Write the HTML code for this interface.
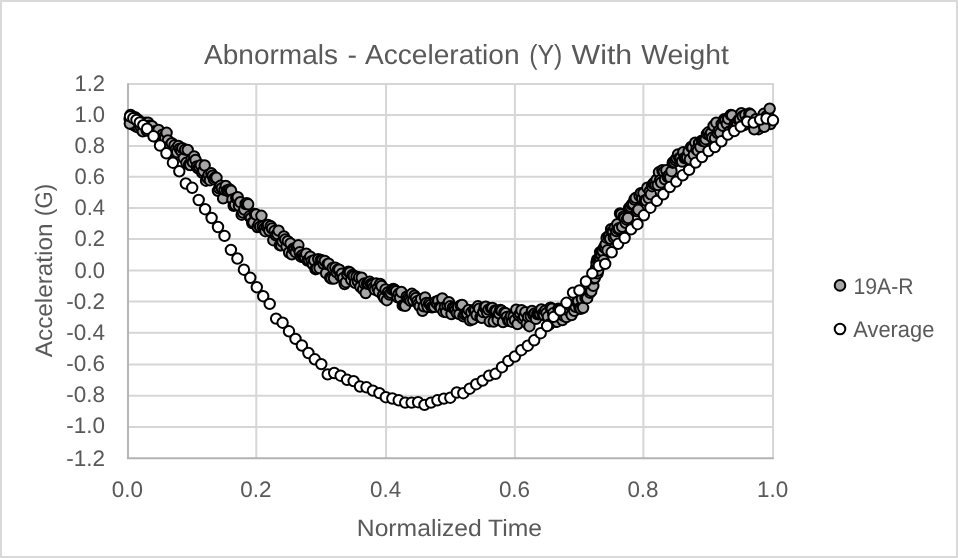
<!DOCTYPE html>
<html lang="en"><head><meta charset="utf-8"><title>Abnormals - Acceleration (Y) With Weight</title>
<style>html,body{margin:0;padding:0;background:#fff;}body{width:958px;height:558px;overflow:hidden;}svg{display:block;will-change:transform;}text{font-family:"Liberation Sans",sans-serif;fill:#595959;text-rendering:geometricPrecision;}</style></head><body>
<svg width="958" height="558" viewBox="0 0 958 558">
<rect x="0" y="0" width="958" height="558" fill="#ffffff"/>
<rect x="1" y="1" width="956" height="556" fill="none" stroke="#d9d9d9" stroke-width="2"/>
<g stroke="#d6d6d6" stroke-width="2" fill="none"><line x1="127.7" y1="83.90" x2="774.0" y2="83.90"/><line x1="127.7" y1="115.10" x2="774.0" y2="115.10"/><line x1="127.7" y1="146.10" x2="774.0" y2="146.10"/><line x1="127.7" y1="176.80" x2="774.0" y2="176.80"/><line x1="127.7" y1="207.90" x2="774.0" y2="207.90"/><line x1="127.7" y1="239.00" x2="774.0" y2="239.00"/><line x1="127.7" y1="270.50" x2="774.0" y2="270.50"/><line x1="127.7" y1="301.50" x2="774.0" y2="301.50"/><line x1="127.7" y1="332.70" x2="774.0" y2="332.70"/><line x1="127.7" y1="364.40" x2="774.0" y2="364.40"/><line x1="127.7" y1="395.80" x2="774.0" y2="395.80"/><line x1="127.7" y1="427.10" x2="774.0" y2="427.10"/><line x1="256.30" y1="82.9" x2="256.30" y2="458.2"/><line x1="386.05" y1="82.9" x2="386.05" y2="458.2"/><line x1="514.90" y1="82.9" x2="514.90" y2="458.2"/><line x1="643.40" y1="82.9" x2="643.40" y2="458.2"/><line x1="773.00" y1="82.9" x2="773.00" y2="458.2"/></g>
<g stroke="#b3b3b3" stroke-width="1.9" fill="none"><line x1="128.0" y1="83.2" x2="128.0" y2="459.0"/><line x1="126.9" y1="458.2" x2="773.8" y2="458.2"/></g>
<g fill="#a8a5a5" stroke="#000" stroke-width="2.0"><circle cx="130.2" cy="121.0" r="5.2"/><circle cx="131.8" cy="124.2" r="5.2"/><circle cx="134.0" cy="125.0" r="5.2"/><circle cx="136.2" cy="126.6" r="5.2"/><circle cx="138.6" cy="127.6" r="5.2"/><circle cx="131.0" cy="118.5" r="5.2"/><circle cx="129.6" cy="118.7" r="5.2"/><circle cx="130.9" cy="117.2" r="5.2"/><circle cx="132.2" cy="120.9" r="5.2"/><circle cx="133.6" cy="121.5" r="5.2"/><circle cx="134.9" cy="117.2" r="5.2"/><circle cx="136.2" cy="118.5" r="5.2"/><circle cx="137.5" cy="122.2" r="5.2"/><circle cx="138.8" cy="120.3" r="5.2"/><circle cx="140.2" cy="126.1" r="5.2"/><circle cx="141.5" cy="123.1" r="5.2"/><circle cx="142.8" cy="131.4" r="5.2"/><circle cx="144.1" cy="123.8" r="5.2"/><circle cx="145.4" cy="122.8" r="5.2"/><circle cx="146.8" cy="130.6" r="5.2"/><circle cx="148.1" cy="122.6" r="5.2"/><circle cx="149.4" cy="125.7" r="5.2"/><circle cx="150.7" cy="129.3" r="5.2"/><circle cx="152.0" cy="126.1" r="5.2"/><circle cx="153.4" cy="131.8" r="5.2"/><circle cx="154.7" cy="132.7" r="5.2"/><circle cx="156.0" cy="131.2" r="5.2"/><circle cx="157.3" cy="137.2" r="5.2"/><circle cx="158.6" cy="129.9" r="5.2"/><circle cx="160.0" cy="139.3" r="5.2"/><circle cx="161.3" cy="138.3" r="5.2"/><circle cx="162.6" cy="134.6" r="5.2"/><circle cx="163.9" cy="136.9" r="5.2"/><circle cx="165.2" cy="138.2" r="5.2"/><circle cx="166.6" cy="132.8" r="5.2"/><circle cx="167.9" cy="140.4" r="5.2"/><circle cx="169.2" cy="146.5" r="5.2"/><circle cx="170.5" cy="145.7" r="5.2"/><circle cx="171.8" cy="143.1" r="5.2"/><circle cx="173.2" cy="151.9" r="5.2"/><circle cx="174.5" cy="145.3" r="5.2"/><circle cx="175.8" cy="149.5" r="5.2"/><circle cx="177.1" cy="152.2" r="5.2"/><circle cx="178.4" cy="145.9" r="5.2"/><circle cx="179.8" cy="148.6" r="5.2"/><circle cx="181.1" cy="150.8" r="5.2"/><circle cx="182.4" cy="148.1" r="5.2"/><circle cx="183.7" cy="158.1" r="5.2"/><circle cx="185.0" cy="149.6" r="5.2"/><circle cx="186.4" cy="162.8" r="5.2"/><circle cx="187.7" cy="149.9" r="5.2"/><circle cx="189.0" cy="164.7" r="5.2"/><circle cx="190.3" cy="165.1" r="5.2"/><circle cx="191.6" cy="159.1" r="5.2"/><circle cx="192.9" cy="162.2" r="5.2"/><circle cx="194.2" cy="156.4" r="5.2"/><circle cx="195.5" cy="160.0" r="5.2"/><circle cx="196.8" cy="166.5" r="5.2"/><circle cx="198.1" cy="168.4" r="5.2"/><circle cx="199.4" cy="167.2" r="5.2"/><circle cx="200.8" cy="165.1" r="5.2"/><circle cx="202.1" cy="172.5" r="5.2"/><circle cx="203.4" cy="171.0" r="5.2"/><circle cx="204.7" cy="165.5" r="5.2"/><circle cx="206.0" cy="180.7" r="5.2"/><circle cx="207.3" cy="177.8" r="5.2"/><circle cx="208.6" cy="174.7" r="5.2"/><circle cx="209.9" cy="180.2" r="5.2"/><circle cx="211.3" cy="173.3" r="5.2"/><circle cx="212.6" cy="175.6" r="5.2"/><circle cx="213.9" cy="179.2" r="5.2"/><circle cx="215.2" cy="177.5" r="5.2"/><circle cx="216.5" cy="177.8" r="5.2"/><circle cx="217.9" cy="190.8" r="5.2"/><circle cx="219.2" cy="188.4" r="5.2"/><circle cx="220.5" cy="185.8" r="5.2"/><circle cx="221.8" cy="188.1" r="5.2"/><circle cx="223.1" cy="198.4" r="5.2"/><circle cx="224.5" cy="189.8" r="5.2"/><circle cx="225.8" cy="186.0" r="5.2"/><circle cx="227.1" cy="190.5" r="5.2"/><circle cx="228.4" cy="191.1" r="5.2"/><circle cx="229.7" cy="189.4" r="5.2"/><circle cx="231.1" cy="190.7" r="5.2"/><circle cx="232.4" cy="199.4" r="5.2"/><circle cx="233.7" cy="205.9" r="5.2"/><circle cx="235.0" cy="204.8" r="5.2"/><circle cx="236.3" cy="198.0" r="5.2"/><circle cx="237.7" cy="197.2" r="5.2"/><circle cx="239.0" cy="205.9" r="5.2"/><circle cx="240.3" cy="202.2" r="5.2"/><circle cx="241.6" cy="214.7" r="5.2"/><circle cx="242.9" cy="212.6" r="5.2"/><circle cx="244.3" cy="209.5" r="5.2"/><circle cx="245.6" cy="204.0" r="5.2"/><circle cx="246.9" cy="203.2" r="5.2"/><circle cx="248.2" cy="204.3" r="5.2"/><circle cx="249.5" cy="216.3" r="5.2"/><circle cx="250.9" cy="218.1" r="5.2"/><circle cx="252.2" cy="223.0" r="5.2"/><circle cx="253.5" cy="222.4" r="5.2"/><circle cx="254.8" cy="213.9" r="5.2"/><circle cx="256.1" cy="214.5" r="5.2"/><circle cx="257.5" cy="227.1" r="5.2"/><circle cx="258.8" cy="224.3" r="5.2"/><circle cx="260.1" cy="226.7" r="5.2"/><circle cx="261.4" cy="215.8" r="5.2"/><circle cx="262.7" cy="226.6" r="5.2"/><circle cx="264.1" cy="228.7" r="5.2"/><circle cx="265.4" cy="231.2" r="5.2"/><circle cx="266.7" cy="226.5" r="5.2"/><circle cx="268.0" cy="224.9" r="5.2"/><circle cx="269.3" cy="230.6" r="5.2"/><circle cx="270.7" cy="226.1" r="5.2"/><circle cx="272.0" cy="228.5" r="5.2"/><circle cx="273.3" cy="240.2" r="5.2"/><circle cx="274.6" cy="230.9" r="5.2"/><circle cx="275.9" cy="235.4" r="5.2"/><circle cx="277.3" cy="234.1" r="5.2"/><circle cx="278.6" cy="230.6" r="5.2"/><circle cx="279.9" cy="245.2" r="5.2"/><circle cx="281.2" cy="245.4" r="5.2"/><circle cx="282.5" cy="241.6" r="5.2"/><circle cx="283.9" cy="236.5" r="5.2"/><circle cx="285.2" cy="239.4" r="5.2"/><circle cx="286.5" cy="246.4" r="5.2"/><circle cx="287.8" cy="241.2" r="5.2"/><circle cx="289.1" cy="252.5" r="5.2"/><circle cx="290.5" cy="243.5" r="5.2"/><circle cx="291.8" cy="254.3" r="5.2"/><circle cx="293.1" cy="248.8" r="5.2"/><circle cx="294.4" cy="249.6" r="5.2"/><circle cx="295.7" cy="252.2" r="5.2"/><circle cx="297.1" cy="247.0" r="5.2"/><circle cx="298.4" cy="245.3" r="5.2"/><circle cx="299.7" cy="252.3" r="5.2"/><circle cx="301.0" cy="256.7" r="5.2"/><circle cx="302.3" cy="255.1" r="5.2"/><circle cx="303.7" cy="257.0" r="5.2"/><circle cx="305.0" cy="257.4" r="5.2"/><circle cx="306.3" cy="253.7" r="5.2"/><circle cx="307.6" cy="260.5" r="5.2"/><circle cx="308.9" cy="260.3" r="5.2"/><circle cx="310.3" cy="256.7" r="5.2"/><circle cx="311.6" cy="261.1" r="5.2"/><circle cx="312.9" cy="264.3" r="5.2"/><circle cx="314.2" cy="260.3" r="5.2"/><circle cx="315.5" cy="269.2" r="5.2"/><circle cx="316.9" cy="268.5" r="5.2"/><circle cx="318.2" cy="259.1" r="5.2"/><circle cx="319.5" cy="268.1" r="5.2"/><circle cx="320.8" cy="259.9" r="5.2"/><circle cx="322.1" cy="260.7" r="5.2"/><circle cx="323.5" cy="263.8" r="5.2"/><circle cx="324.8" cy="261.0" r="5.2"/><circle cx="326.1" cy="273.2" r="5.2"/><circle cx="327.4" cy="264.3" r="5.2"/><circle cx="328.7" cy="263.7" r="5.2"/><circle cx="330.1" cy="277.7" r="5.2"/><circle cx="331.4" cy="278.6" r="5.2"/><circle cx="332.7" cy="268.0" r="5.2"/><circle cx="334.0" cy="278.5" r="5.2"/><circle cx="335.3" cy="267.6" r="5.2"/><circle cx="336.7" cy="272.4" r="5.2"/><circle cx="338.0" cy="269.5" r="5.2"/><circle cx="339.3" cy="269.6" r="5.2"/><circle cx="340.6" cy="276.2" r="5.2"/><circle cx="341.9" cy="273.6" r="5.2"/><circle cx="343.3" cy="277.9" r="5.2"/><circle cx="344.6" cy="284.1" r="5.2"/><circle cx="345.9" cy="282.2" r="5.2"/><circle cx="347.2" cy="274.3" r="5.2"/><circle cx="348.5" cy="271.6" r="5.2"/><circle cx="349.9" cy="272.4" r="5.2"/><circle cx="351.2" cy="279.8" r="5.2"/><circle cx="352.5" cy="275.0" r="5.2"/><circle cx="353.8" cy="276.2" r="5.2"/><circle cx="355.1" cy="282.8" r="5.2"/><circle cx="356.5" cy="276.7" r="5.2"/><circle cx="357.8" cy="281.3" r="5.2"/><circle cx="359.1" cy="277.5" r="5.2"/><circle cx="360.4" cy="286.9" r="5.2"/><circle cx="361.7" cy="277.7" r="5.2"/><circle cx="363.1" cy="289.3" r="5.2"/><circle cx="364.4" cy="283.5" r="5.2"/><circle cx="365.7" cy="293.0" r="5.2"/><circle cx="367.0" cy="283.6" r="5.2"/><circle cx="368.3" cy="283.9" r="5.2"/><circle cx="369.7" cy="281.8" r="5.2"/><circle cx="371.0" cy="283.9" r="5.2"/><circle cx="372.3" cy="285.0" r="5.2"/><circle cx="373.6" cy="287.5" r="5.2"/><circle cx="374.9" cy="289.7" r="5.2"/><circle cx="376.3" cy="283.5" r="5.2"/><circle cx="377.6" cy="288.2" r="5.2"/><circle cx="378.9" cy="291.5" r="5.2"/><circle cx="380.2" cy="283.9" r="5.2"/><circle cx="381.5" cy="286.0" r="5.2"/><circle cx="382.9" cy="295.4" r="5.2"/><circle cx="384.2" cy="297.8" r="5.2"/><circle cx="385.5" cy="289.5" r="5.2"/><circle cx="386.8" cy="300.2" r="5.2"/><circle cx="388.1" cy="292.1" r="5.2"/><circle cx="389.5" cy="294.5" r="5.2"/><circle cx="390.8" cy="292.8" r="5.2"/><circle cx="392.1" cy="289.7" r="5.2"/><circle cx="393.4" cy="288.9" r="5.2"/><circle cx="394.7" cy="289.9" r="5.2"/><circle cx="396.1" cy="291.2" r="5.2"/><circle cx="397.4" cy="297.2" r="5.2"/><circle cx="398.7" cy="293.8" r="5.2"/><circle cx="400.0" cy="297.8" r="5.2"/><circle cx="401.3" cy="292.0" r="5.2"/><circle cx="402.7" cy="305.4" r="5.2"/><circle cx="404.0" cy="304.9" r="5.2"/><circle cx="405.3" cy="305.8" r="5.2"/><circle cx="406.6" cy="296.7" r="5.2"/><circle cx="407.9" cy="298.3" r="5.2"/><circle cx="409.3" cy="299.3" r="5.2"/><circle cx="410.6" cy="300.9" r="5.2"/><circle cx="411.9" cy="293.8" r="5.2"/><circle cx="413.2" cy="300.3" r="5.2"/><circle cx="414.5" cy="295.6" r="5.2"/><circle cx="415.9" cy="297.9" r="5.2"/><circle cx="417.2" cy="301.3" r="5.2"/><circle cx="418.5" cy="304.0" r="5.2"/><circle cx="419.8" cy="306.2" r="5.2"/><circle cx="421.1" cy="299.1" r="5.2"/><circle cx="422.5" cy="310.8" r="5.2"/><circle cx="423.8" cy="306.3" r="5.2"/><circle cx="425.1" cy="297.4" r="5.2"/><circle cx="426.4" cy="303.0" r="5.2"/><circle cx="427.7" cy="307.0" r="5.2"/><circle cx="429.1" cy="303.3" r="5.2"/><circle cx="430.4" cy="304.9" r="5.2"/><circle cx="431.7" cy="307.3" r="5.2"/><circle cx="433.0" cy="307.1" r="5.2"/><circle cx="434.3" cy="306.7" r="5.2"/><circle cx="435.7" cy="301.8" r="5.2"/><circle cx="437.0" cy="303.7" r="5.2"/><circle cx="438.3" cy="300.8" r="5.2"/><circle cx="439.6" cy="307.0" r="5.2"/><circle cx="440.9" cy="308.0" r="5.2"/><circle cx="442.3" cy="298.5" r="5.2"/><circle cx="443.6" cy="311.7" r="5.2"/><circle cx="444.9" cy="306.9" r="5.2"/><circle cx="446.2" cy="312.0" r="5.2"/><circle cx="447.5" cy="305.4" r="5.2"/><circle cx="448.9" cy="302.2" r="5.2"/><circle cx="450.2" cy="306.3" r="5.2"/><circle cx="451.5" cy="314.0" r="5.2"/><circle cx="452.8" cy="307.6" r="5.2"/><circle cx="454.1" cy="308.7" r="5.2"/><circle cx="455.5" cy="310.1" r="5.2"/><circle cx="456.8" cy="313.1" r="5.2"/><circle cx="458.1" cy="307.3" r="5.2"/><circle cx="459.4" cy="314.1" r="5.2"/><circle cx="460.7" cy="305.4" r="5.2"/><circle cx="462.1" cy="304.9" r="5.2"/><circle cx="463.4" cy="316.3" r="5.2"/><circle cx="464.7" cy="314.4" r="5.2"/><circle cx="466.0" cy="313.1" r="5.2"/><circle cx="467.3" cy="313.8" r="5.2"/><circle cx="468.7" cy="309.9" r="5.2"/><circle cx="470.0" cy="320.3" r="5.2"/><circle cx="471.3" cy="312.5" r="5.2"/><circle cx="472.6" cy="319.3" r="5.2"/><circle cx="473.9" cy="310.0" r="5.2"/><circle cx="475.3" cy="310.3" r="5.2"/><circle cx="476.6" cy="315.0" r="5.2"/><circle cx="477.9" cy="306.3" r="5.2"/><circle cx="479.2" cy="308.7" r="5.2"/><circle cx="480.5" cy="317.2" r="5.2"/><circle cx="481.9" cy="317.9" r="5.2"/><circle cx="483.2" cy="312.1" r="5.2"/><circle cx="484.5" cy="307.4" r="5.2"/><circle cx="485.8" cy="306.7" r="5.2"/><circle cx="487.1" cy="312.5" r="5.2"/><circle cx="488.5" cy="309.6" r="5.2"/><circle cx="489.8" cy="321.4" r="5.2"/><circle cx="491.1" cy="308.2" r="5.2"/><circle cx="492.4" cy="308.0" r="5.2"/><circle cx="493.7" cy="321.5" r="5.2"/><circle cx="495.1" cy="310.5" r="5.2"/><circle cx="496.4" cy="310.9" r="5.2"/><circle cx="497.7" cy="319.9" r="5.2"/><circle cx="499.0" cy="313.3" r="5.2"/><circle cx="500.3" cy="309.9" r="5.2"/><circle cx="501.7" cy="310.8" r="5.2"/><circle cx="503.0" cy="322.0" r="5.2"/><circle cx="504.3" cy="312.6" r="5.2"/><circle cx="505.6" cy="313.2" r="5.2"/><circle cx="506.9" cy="316.9" r="5.2"/><circle cx="508.3" cy="320.6" r="5.2"/><circle cx="509.6" cy="320.9" r="5.2"/><circle cx="510.9" cy="316.1" r="5.2"/><circle cx="512.2" cy="321.8" r="5.2"/><circle cx="513.5" cy="316.7" r="5.2"/><circle cx="514.9" cy="320.2" r="5.2"/><circle cx="516.2" cy="309.6" r="5.2"/><circle cx="517.5" cy="324.1" r="5.2"/><circle cx="518.8" cy="315.4" r="5.2"/><circle cx="520.1" cy="313.6" r="5.2"/><circle cx="521.5" cy="310.2" r="5.2"/><circle cx="522.8" cy="318.6" r="5.2"/><circle cx="524.1" cy="316.4" r="5.2"/><circle cx="525.4" cy="312.1" r="5.2"/><circle cx="526.7" cy="323.2" r="5.2"/><circle cx="528.1" cy="316.9" r="5.2"/><circle cx="529.4" cy="326.2" r="5.2"/><circle cx="530.7" cy="316.2" r="5.2"/><circle cx="532.0" cy="311.0" r="5.2"/><circle cx="533.3" cy="314.8" r="5.2"/><circle cx="534.7" cy="313.4" r="5.2"/><circle cx="536.0" cy="318.9" r="5.2"/><circle cx="537.3" cy="314.0" r="5.2"/><circle cx="538.6" cy="314.2" r="5.2"/><circle cx="539.9" cy="313.9" r="5.2"/><circle cx="541.3" cy="309.5" r="5.2"/><circle cx="542.6" cy="313.8" r="5.2"/><circle cx="543.9" cy="315.0" r="5.2"/><circle cx="545.2" cy="310.7" r="5.2"/><circle cx="546.5" cy="313.1" r="5.2"/><circle cx="547.9" cy="316.8" r="5.2"/><circle cx="549.2" cy="324.5" r="5.2"/><circle cx="550.5" cy="307.6" r="5.2"/><circle cx="551.8" cy="308.8" r="5.2"/><circle cx="553.1" cy="313.3" r="5.2"/><circle cx="554.5" cy="318.1" r="5.2"/><circle cx="555.8" cy="321.7" r="5.2"/><circle cx="557.1" cy="321.7" r="5.2"/><circle cx="558.4" cy="308.7" r="5.2"/><circle cx="559.7" cy="309.4" r="5.2"/><circle cx="561.1" cy="317.9" r="5.2"/><circle cx="562.4" cy="320.1" r="5.2"/><circle cx="563.7" cy="315.9" r="5.2"/><circle cx="565.0" cy="312.3" r="5.2"/><circle cx="566.3" cy="317.0" r="5.2"/><circle cx="567.7" cy="310.0" r="5.2"/><circle cx="569.0" cy="308.3" r="5.2"/><circle cx="570.3" cy="305.7" r="5.2"/><circle cx="571.6" cy="315.0" r="5.2"/><circle cx="572.9" cy="305.3" r="5.2"/><circle cx="574.3" cy="310.9" r="5.2"/><circle cx="575.6" cy="306.9" r="5.2"/><circle cx="576.9" cy="301.8" r="5.2"/><circle cx="578.2" cy="301.1" r="5.2"/><circle cx="579.5" cy="308.1" r="5.2"/><circle cx="580.7" cy="308.8" r="5.2"/><circle cx="581.9" cy="299.0" r="5.2"/><circle cx="583.1" cy="307.8" r="5.2"/><circle cx="584.3" cy="292.0" r="5.2"/><circle cx="585.5" cy="298.1" r="5.2"/><circle cx="586.4" cy="292.4" r="5.2"/><circle cx="587.2" cy="298.2" r="5.2"/><circle cx="587.9" cy="286.0" r="5.2"/><circle cx="588.6" cy="287.8" r="5.2"/><circle cx="589.3" cy="286.3" r="5.2"/><circle cx="590.0" cy="292.7" r="5.2"/><circle cx="590.7" cy="281.0" r="5.2"/><circle cx="591.3" cy="291.2" r="5.2"/><circle cx="592.0" cy="281.3" r="5.2"/><circle cx="592.7" cy="277.8" r="5.2"/><circle cx="593.3" cy="285.9" r="5.2"/><circle cx="593.9" cy="278.5" r="5.2"/><circle cx="594.4" cy="276.0" r="5.2"/><circle cx="594.9" cy="277.8" r="5.2"/><circle cx="595.5" cy="271.3" r="5.2"/><circle cx="596.0" cy="267.7" r="5.2"/><circle cx="596.5" cy="262.9" r="5.2"/><circle cx="597.1" cy="259.6" r="5.2"/><circle cx="597.6" cy="273.3" r="5.2"/><circle cx="598.2" cy="270.5" r="5.2"/><circle cx="598.8" cy="260.4" r="5.2"/><circle cx="599.4" cy="258.4" r="5.2"/><circle cx="600.1" cy="252.1" r="5.2"/><circle cx="600.7" cy="259.8" r="5.2"/><circle cx="601.4" cy="254.7" r="5.2"/><circle cx="602.1" cy="250.8" r="5.2"/><circle cx="602.7" cy="251.0" r="5.2"/><circle cx="603.4" cy="260.2" r="5.2"/><circle cx="604.1" cy="247.4" r="5.2"/><circle cx="604.9" cy="247.2" r="5.2"/><circle cx="605.7" cy="244.2" r="5.2"/><circle cx="606.6" cy="237.7" r="5.2"/><circle cx="607.5" cy="250.3" r="5.2"/><circle cx="608.4" cy="236.3" r="5.2"/><circle cx="609.3" cy="235.7" r="5.2"/><circle cx="610.2" cy="238.7" r="5.2"/><circle cx="611.1" cy="229.2" r="5.2"/><circle cx="612.0" cy="231.6" r="5.2"/><circle cx="612.9" cy="232.0" r="5.2"/><circle cx="613.8" cy="237.6" r="5.2"/><circle cx="614.7" cy="227.6" r="5.2"/><circle cx="615.5" cy="236.1" r="5.2"/><circle cx="616.4" cy="231.1" r="5.2"/><circle cx="617.3" cy="224.2" r="5.2"/><circle cx="618.2" cy="229.2" r="5.2"/><circle cx="619.1" cy="228.2" r="5.2"/><circle cx="620.0" cy="213.4" r="5.2"/><circle cx="621.1" cy="214.5" r="5.2"/><circle cx="622.2" cy="226.9" r="5.2"/><circle cx="623.4" cy="216.7" r="5.2"/><circle cx="624.5" cy="218.1" r="5.2"/><circle cx="625.7" cy="222.9" r="5.2"/><circle cx="626.8" cy="219.7" r="5.2"/><circle cx="628.0" cy="218.0" r="5.2"/><circle cx="629.2" cy="207.8" r="5.2"/><circle cx="630.5" cy="206.7" r="5.2"/><circle cx="631.8" cy="204.6" r="5.2"/><circle cx="633.1" cy="203.7" r="5.2"/><circle cx="634.4" cy="199.6" r="5.2"/><circle cx="635.7" cy="197.9" r="5.2"/><circle cx="637.0" cy="211.3" r="5.2"/><circle cx="638.3" cy="209.8" r="5.2"/><circle cx="639.5" cy="195.8" r="5.2"/><circle cx="640.8" cy="193.1" r="5.2"/><circle cx="642.1" cy="198.8" r="5.2"/><circle cx="643.4" cy="193.1" r="5.2"/><circle cx="644.7" cy="200.4" r="5.2"/><circle cx="646.0" cy="200.5" r="5.2"/><circle cx="647.3" cy="187.7" r="5.2"/><circle cx="648.6" cy="198.0" r="5.2"/><circle cx="649.7" cy="191.4" r="5.2"/><circle cx="650.9" cy="194.3" r="5.2"/><circle cx="652.0" cy="186.2" r="5.2"/><circle cx="653.2" cy="183.8" r="5.2"/><circle cx="654.3" cy="182.9" r="5.2"/><circle cx="655.5" cy="184.9" r="5.2"/><circle cx="656.6" cy="179.7" r="5.2"/><circle cx="657.8" cy="185.0" r="5.2"/><circle cx="658.9" cy="172.3" r="5.2"/><circle cx="660.1" cy="180.1" r="5.2"/><circle cx="661.2" cy="182.5" r="5.2"/><circle cx="662.4" cy="170.2" r="5.2"/><circle cx="663.7" cy="171.8" r="5.2"/><circle cx="665.0" cy="179.4" r="5.2"/><circle cx="666.3" cy="170.3" r="5.2"/><circle cx="667.6" cy="176.8" r="5.2"/><circle cx="668.9" cy="175.3" r="5.2"/><circle cx="670.2" cy="177.5" r="5.2"/><circle cx="671.5" cy="171.2" r="5.2"/><circle cx="672.7" cy="162.7" r="5.2"/><circle cx="674.0" cy="162.1" r="5.2"/><circle cx="675.4" cy="160.0" r="5.2"/><circle cx="676.7" cy="158.4" r="5.2"/><circle cx="678.0" cy="154.5" r="5.2"/><circle cx="679.3" cy="158.1" r="5.2"/><circle cx="680.6" cy="157.9" r="5.2"/><circle cx="682.0" cy="161.5" r="5.2"/><circle cx="683.3" cy="152.2" r="5.2"/><circle cx="684.6" cy="158.0" r="5.2"/><circle cx="685.9" cy="158.0" r="5.2"/><circle cx="687.2" cy="157.4" r="5.2"/><circle cx="688.6" cy="151.5" r="5.2"/><circle cx="689.9" cy="159.4" r="5.2"/><circle cx="691.2" cy="146.9" r="5.2"/><circle cx="692.5" cy="147.8" r="5.2"/><circle cx="693.8" cy="154.7" r="5.2"/><circle cx="695.2" cy="142.6" r="5.2"/><circle cx="696.5" cy="149.3" r="5.2"/><circle cx="697.8" cy="150.7" r="5.2"/><circle cx="699.1" cy="142.9" r="5.2"/><circle cx="700.4" cy="147.0" r="5.2"/><circle cx="701.8" cy="140.7" r="5.2"/><circle cx="703.1" cy="140.9" r="5.2"/><circle cx="704.4" cy="141.3" r="5.2"/><circle cx="705.7" cy="139.2" r="5.2"/><circle cx="707.0" cy="133.9" r="5.2"/><circle cx="708.4" cy="132.3" r="5.2"/><circle cx="709.7" cy="135.3" r="5.2"/><circle cx="711.0" cy="133.1" r="5.2"/><circle cx="712.3" cy="137.7" r="5.2"/><circle cx="713.6" cy="125.8" r="5.2"/><circle cx="715.0" cy="138.3" r="5.2"/><circle cx="716.3" cy="122.7" r="5.2"/><circle cx="717.6" cy="133.0" r="5.2"/><circle cx="718.9" cy="130.9" r="5.2"/><circle cx="720.2" cy="132.9" r="5.2"/><circle cx="721.6" cy="124.1" r="5.2"/><circle cx="722.9" cy="125.9" r="5.2"/><circle cx="724.2" cy="119.3" r="5.2"/><circle cx="725.5" cy="120.0" r="5.2"/><circle cx="726.8" cy="123.8" r="5.2"/><circle cx="728.2" cy="118.8" r="5.2"/><circle cx="729.5" cy="131.5" r="5.2"/><circle cx="730.8" cy="114.9" r="5.2"/><circle cx="732.1" cy="115.4" r="5.2"/><circle cx="733.4" cy="128.8" r="5.2"/><circle cx="734.8" cy="124.2" r="5.2"/><circle cx="736.1" cy="123.7" r="5.2"/><circle cx="737.4" cy="124.2" r="5.2"/><circle cx="738.7" cy="119.9" r="5.2"/><circle cx="740.0" cy="119.5" r="5.2"/><circle cx="741.4" cy="113.1" r="5.2"/><circle cx="742.7" cy="116.2" r="5.2"/><circle cx="744.0" cy="125.1" r="5.2"/><circle cx="745.3" cy="115.0" r="5.2"/><circle cx="746.6" cy="120.9" r="5.2"/><circle cx="748.0" cy="120.1" r="5.2"/><circle cx="749.3" cy="113.5" r="5.2"/><circle cx="750.6" cy="114.4" r="5.2"/><circle cx="751.9" cy="124.2" r="5.2"/><circle cx="753.2" cy="125.6" r="5.2"/><circle cx="754.6" cy="122.0" r="5.2"/><circle cx="755.9" cy="119.2" r="5.2"/><circle cx="757.2" cy="128.6" r="5.2"/><circle cx="758.5" cy="129.2" r="5.2"/><circle cx="759.8" cy="123.7" r="5.2"/><circle cx="761.2" cy="126.3" r="5.2"/><circle cx="762.5" cy="121.8" r="5.2"/><circle cx="763.8" cy="113.8" r="5.2"/><circle cx="765.1" cy="123.8" r="5.2"/><circle cx="766.4" cy="116.5" r="5.2"/><circle cx="767.8" cy="123.8" r="5.2"/><circle cx="769.1" cy="117.1" r="5.2"/><circle cx="770.4" cy="124.0" r="5.2"/><circle cx="769.7" cy="108.6" r="5.2"/><circle cx="754.3" cy="129.4" r="5.2"/><circle cx="764.3" cy="126.9" r="5.2"/><circle cx="129.8" cy="123.6" r="5.2"/><circle cx="130.6" cy="115.0" r="5.2"/></g>
<g fill="#fff" stroke="#000" stroke-width="2.0"><circle cx="130.0" cy="116.4" r="5.2"/><circle cx="133.3" cy="118.2" r="5.2"/><circle cx="136.5" cy="120.0" r="5.2"/><circle cx="139.8" cy="122.5" r="5.2"/><circle cx="143.3" cy="125.1" r="5.2"/><circle cx="147.1" cy="128.7" r="5.2"/><circle cx="153.5" cy="136.3" r="5.2"/><circle cx="160.0" cy="145.5" r="5.2"/><circle cx="166.4" cy="153.3" r="5.2"/><circle cx="172.9" cy="162.7" r="5.2"/><circle cx="179.3" cy="171.3" r="5.2"/><circle cx="185.8" cy="183.5" r="5.2"/><circle cx="192.2" cy="187.8" r="5.2"/><circle cx="198.7" cy="200.0" r="5.2"/><circle cx="205.1" cy="209.2" r="5.2"/><circle cx="211.6" cy="218.0" r="5.2"/><circle cx="218.0" cy="227.0" r="5.2"/><circle cx="224.5" cy="235.9" r="5.2"/><circle cx="230.9" cy="249.9" r="5.2"/><circle cx="237.4" cy="258.5" r="5.2"/><circle cx="243.9" cy="269.7" r="5.2"/><circle cx="250.3" cy="277.8" r="5.2"/><circle cx="256.8" cy="287.2" r="5.2"/><circle cx="263.2" cy="296.2" r="5.2"/><circle cx="269.7" cy="303.9" r="5.2"/><circle cx="276.1" cy="318.6" r="5.2"/><circle cx="282.6" cy="322.7" r="5.2"/><circle cx="289.0" cy="331.3" r="5.2"/><circle cx="295.5" cy="338.9" r="5.2"/><circle cx="301.9" cy="345.5" r="5.2"/><circle cx="308.4" cy="353.0" r="5.2"/><circle cx="314.8" cy="359.3" r="5.2"/><circle cx="321.3" cy="364.1" r="5.2"/><circle cx="327.7" cy="374.4" r="5.2"/><circle cx="334.2" cy="373.0" r="5.2"/><circle cx="340.6" cy="375.7" r="5.2"/><circle cx="347.1" cy="379.8" r="5.2"/><circle cx="353.6" cy="381.1" r="5.2"/><circle cx="360.0" cy="386.5" r="5.2"/><circle cx="366.5" cy="387.3" r="5.2"/><circle cx="372.9" cy="390.6" r="5.2"/><circle cx="379.4" cy="393.1" r="5.2"/><circle cx="385.8" cy="397.2" r="5.2"/><circle cx="392.3" cy="398.5" r="5.2"/><circle cx="398.7" cy="400.3" r="5.2"/><circle cx="405.2" cy="402.6" r="5.2"/><circle cx="411.6" cy="402.6" r="5.2"/><circle cx="418.1" cy="402.2" r="5.2"/><circle cx="424.5" cy="404.9" r="5.2"/><circle cx="431.0" cy="402.6" r="5.2"/><circle cx="437.4" cy="400.3" r="5.2"/><circle cx="443.9" cy="398.6" r="5.2"/><circle cx="450.3" cy="397.7" r="5.2"/><circle cx="456.8" cy="392.5" r="5.2"/><circle cx="463.3" cy="393.2" r="5.2"/><circle cx="469.7" cy="388.7" r="5.2"/><circle cx="476.2" cy="384.2" r="5.2"/><circle cx="482.6" cy="380.6" r="5.2"/><circle cx="489.1" cy="375.6" r="5.2"/><circle cx="495.5" cy="373.8" r="5.2"/><circle cx="502.0" cy="367.2" r="5.2"/><circle cx="508.4" cy="360.9" r="5.2"/><circle cx="514.9" cy="356.5" r="5.2"/><circle cx="521.3" cy="350.2" r="5.2"/><circle cx="527.8" cy="345.7" r="5.2"/><circle cx="534.2" cy="340.3" r="5.2"/><circle cx="540.7" cy="333.2" r="5.2"/><circle cx="547.1" cy="326.0" r="5.2"/><circle cx="553.6" cy="316.9" r="5.2"/><circle cx="560.1" cy="310.4" r="5.2"/><circle cx="566.5" cy="302.8" r="5.2"/><circle cx="573.0" cy="292.6" r="5.2"/><circle cx="579.4" cy="290.4" r="5.2"/><circle cx="585.9" cy="281.5" r="5.2"/><circle cx="592.3" cy="273.4" r="5.2"/><circle cx="598.8" cy="265.7" r="5.2"/><circle cx="605.2" cy="263.9" r="5.2"/><circle cx="611.7" cy="252.3" r="5.2"/><circle cx="618.1" cy="243.8" r="5.2"/><circle cx="624.6" cy="238.0" r="5.2"/><circle cx="631.0" cy="229.4" r="5.2"/><circle cx="637.5" cy="224.2" r="5.2"/><circle cx="643.9" cy="215.3" r="5.2"/><circle cx="650.4" cy="207.7" r="5.2"/><circle cx="656.8" cy="200.9" r="5.2"/><circle cx="663.3" cy="194.3" r="5.2"/><circle cx="669.8" cy="187.0" r="5.2"/><circle cx="676.2" cy="181.6" r="5.2"/><circle cx="682.7" cy="175.3" r="5.2"/><circle cx="689.1" cy="169.9" r="5.2"/><circle cx="695.6" cy="162.6" r="5.2"/><circle cx="702.0" cy="157.0" r="5.2"/><circle cx="708.5" cy="151.0" r="5.2"/><circle cx="714.9" cy="147.0" r="5.2"/><circle cx="721.4" cy="141.3" r="5.2"/><circle cx="727.8" cy="134.6" r="5.2"/><circle cx="734.3" cy="131.0" r="5.2"/><circle cx="740.7" cy="126.6" r="5.2"/><circle cx="747.2" cy="121.6" r="5.2"/><circle cx="753.6" cy="122.6" r="5.2"/><circle cx="760.1" cy="119.6" r="5.2"/><circle cx="766.5" cy="118.5" r="5.2"/><circle cx="773.0" cy="120.3" r="5.2"/></g>
<g font-size="27.5"><text x="204" y="64.3" textLength="134" lengthAdjust="spacingAndGlyphs">Abnormals</text><text x="347.5" y="64.3" textLength="9.5" lengthAdjust="spacingAndGlyphs">-</text><text x="365.0" y="64.3" textLength="154.6" lengthAdjust="spacingAndGlyphs">Acceleration</text><text x="529.2" y="64.3" textLength="33.2" lengthAdjust="spacingAndGlyphs">(Y)</text><text x="571.6" y="64.3" textLength="60.6" lengthAdjust="spacingAndGlyphs">With</text><text x="641.2" y="64.3" textLength="87.6" lengthAdjust="spacingAndGlyphs">Weight</text></g>
<g font-size="22.4"><text x="74.4" y="90.5" textLength="30.6" lengthAdjust="spacingAndGlyphs">1.2</text><text x="74.4" y="121.6" textLength="30.6" lengthAdjust="spacingAndGlyphs">1.0</text><text x="74.4" y="152.8" textLength="30.6" lengthAdjust="spacingAndGlyphs">0.8</text><text x="74.4" y="184.0" textLength="30.6" lengthAdjust="spacingAndGlyphs">0.6</text><text x="74.4" y="215.1" textLength="30.6" lengthAdjust="spacingAndGlyphs">0.4</text><text x="74.4" y="246.3" textLength="30.6" lengthAdjust="spacingAndGlyphs">0.2</text><text x="74.4" y="277.5" textLength="30.6" lengthAdjust="spacingAndGlyphs">0.0</text><text x="66.2" y="308.6" textLength="38.8" lengthAdjust="spacingAndGlyphs">-0.2</text><text x="66.2" y="339.8" textLength="38.8" lengthAdjust="spacingAndGlyphs">-0.4</text><text x="66.2" y="371.0" textLength="38.8" lengthAdjust="spacingAndGlyphs">-0.6</text><text x="66.2" y="402.2" textLength="38.8" lengthAdjust="spacingAndGlyphs">-0.8</text><text x="66.2" y="433.3" textLength="38.8" lengthAdjust="spacingAndGlyphs">-1.0</text><text x="66.2" y="465.5" textLength="38.8" lengthAdjust="spacingAndGlyphs">-1.2</text></g>
<g font-size="22.4"><text x="111.7" y="496.9" textLength="31.2" lengthAdjust="spacingAndGlyphs">0.0</text><text x="240.3" y="496.9" textLength="31.2" lengthAdjust="spacingAndGlyphs">0.2</text><text x="370.1" y="496.9" textLength="31.2" lengthAdjust="spacingAndGlyphs">0.4</text><text x="498.9" y="496.9" textLength="31.2" lengthAdjust="spacingAndGlyphs">0.6</text><text x="627.4" y="496.9" textLength="31.2" lengthAdjust="spacingAndGlyphs">0.8</text><text x="757.0" y="496.9" textLength="31.2" lengthAdjust="spacingAndGlyphs">1.0</text></g>
<text font-size="23.6" x="356.8" y="536.3" textLength="185.3" lengthAdjust="spacingAndGlyphs">Normalized Time</text>
<g font-size="23.8" transform="translate(52.3 357.2) rotate(-90)"><text x="0" y="0" textLength="133.6" lengthAdjust="spacingAndGlyphs">Acceleration</text><text x="141.3" y="0" textLength="32" lengthAdjust="spacingAndGlyphs">(G)</text></g>
<circle cx="840" cy="285.4" r="5.3" fill="#a8a5a5" stroke="#000" stroke-width="2.0"/>
<circle cx="840" cy="329" r="5.3" fill="#fff" stroke="#000" stroke-width="2.0"/>
<text font-size="22.6" x="853.5" y="293.9" textLength="60" lengthAdjust="spacingAndGlyphs">19A-R</text>
<text font-size="22.6" x="853.3" y="336.8" textLength="81" lengthAdjust="spacingAndGlyphs">Average</text>
</svg></body></html>
